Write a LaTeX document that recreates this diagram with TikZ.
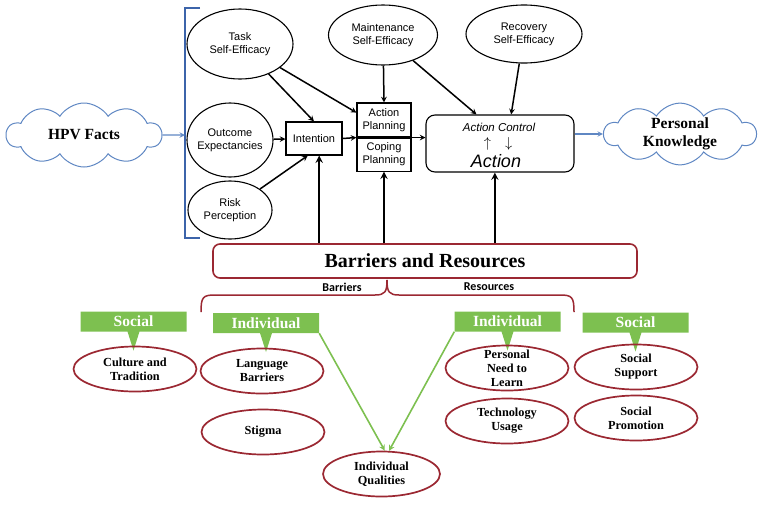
\documentclass[tikz,border=0pt]{standalone}
\usepackage{fontspec}
\setmainfont{Liberation Serif}
\setsansfont{Liberation Sans}
\newfontfamily\calibfont{Carlito}
\usetikzlibrary{shapes.geometric, shapes.symbols, shapes.callouts, arrows, positioning}
\definecolor{darkred}{RGB}{155,40,50}
\definecolor{leafgreen}{RGB}{125,192,80}
\definecolor{bracketblue}{RGB}{60,100,170}
\definecolor{cloudblue}{RGB}{95,135,195}

\begin{document}
\begin{tikzpicture}[x=1pt, y=-1pt, >=stealth]
    \tikzstyle{construct} = [ellipse, draw, line width=1.1pt, inner sep=0pt, align=center, font=\sffamily\fontsize{11}{13}\selectfont]
    \tikzstyle{stage} = [rectangle, draw, line width=1.1pt, inner sep=0pt, align=center, font=\sffamily\fontsize{11}{13}\selectfont]
    \tikzstyle{knowledge} = [cloud, draw=cloudblue, line width=1pt, fill=white, cloud puffs=10, cloud puff arc=115, aspect=2.4, inner sep=0pt, align=center, font=\bfseries\fontsize{15.5}{18}\selectfont]
    \tikzstyle{factor} = [ellipse, draw=darkred, line width=1.7pt, minimum width=123pt, minimum height=45pt, inner sep=0pt, align=center, font=\bfseries\fontsize{12.3}{14}\selectfont]
    \tikzstyle{tag} = [rectangle callout, fill=leafgreen, text=white, minimum width=106pt, minimum height=20pt, inner sep=0pt, callout relative pointer={(0pt,-19pt)}, callout pointer width=12pt, font=\bfseries\fontsize{15.5}{18}\selectfont]
    \tikzstyle{line} = [draw, ->, line width=1.5pt]
    \tikzstyle{upline} = [draw, ->, line width=2.2pt]
    \tikzstyle{blueline} = [draw=cloudblue, ->, line width=1.4pt]
    \tikzstyle{greenline} = [draw=leafgreen, ->, line width=1.6pt]

    \useasboundingbox (0,0) rectangle (768,504);

    \node [knowledge, minimum width=155pt, minimum height=64pt] (hpv) at (84,135) {HPV Facts};
    \node [knowledge, minimum width=152pt, minimum height=60pt] (pk) at (680,134) {Personal\\Knowledge};

    \node [construct, minimum width=106pt, minimum height=70pt] (taskse) at (240,44) {Task\\Self-Efficacy};
    \node [construct, minimum width=86pt, minimum height=74pt, inner xsep=-4pt] (outcome) at (230,140) {Outcome\\Expectancies};
    \node [construct, minimum width=84pt, minimum height=58pt] (risk) at (230,210) {Risk\\Perception};
    \node [construct, minimum width=109pt, minimum height=60pt] (maint) at (383,35) {Maintenance\\Self-Efficacy};
    \node [construct, minimum width=116pt, minimum height=58pt] (recov) at (524,34) {Recovery\\Self-Efficacy};

    \node [stage, minimum width=56pt, minimum height=33pt] (intention) at (314,138.5) {Intention};
    \node [stage, minimum width=54pt, minimum height=34pt] (ap) at (384,120) {Action\\Planning};
    \node [stage, minimum width=54pt, minimum height=33pt, below=0pt of ap] (cp) {Coping\\Planning};
    \node [stage, rounded corners=9pt, minimum width=148pt, minimum height=57pt] (actctrl) at (500,143.5) {};
    \node [inner sep=0pt, font=\sffamily\itshape\fontsize{11.5}{13}\selectfont] (actctrltext) at (499,127) {Action Control};
    \node [inner sep=0pt, font=\fontsize{14}{14}\selectfont] (updown) at (498,144) {$\uparrow\quad\downarrow$};
    \node [inner sep=0pt, font=\sffamily\itshape\fontsize{18}{20}\selectfont] (actiontext) at (496,161) {Action};

    \coordinate (brk) at (185,135);
    \draw [bracketblue, line width=1.4pt] (200,8) -- (185,8) -- (185,238) -- (200,238);

    \node [rectangle, draw=darkred, line width=1.6pt, rounded corners=7pt, minimum width=424pt, minimum height=34pt, font=\bfseries\fontsize{20}{22}\selectfont] (barres) at (425,261) {Barriers and Resources};
    \node [font=\calibfont\bfseries\fontsize{12}{14}\selectfont] (barlabel) at (342,287) {Barriers};
    \node [font=\calibfont\bfseries\fontsize{12}{14}\selectfont] (reslabel) at (489,287) {Resources};
    \draw [darkred, line width=1.5pt] (201,312) .. controls (201,297) and (203,295) .. (215,295) -- (375,295) .. controls (385,295) and (387,292) .. (387,280) .. controls (387,292) and (389,295) .. (399,295) -- (560,295) .. controls (572,295) and (574,297) .. (574,312);

    \node [tag] (sociall) at (133.5,321.5) {Social};
    \node [tag] (indl) at (266,323) {Individual};
    \node [tag] (indr) at (507.5,321.5) {Individual};
    \node [tag] (socialr) at (635.5,322.5) {Social};

    \node [factor] (culture) at (135,369) {Culture and\\Tradition};
    \node [factor] (language) at (262,371) {Language\\Barriers};
    \node [factor] (stigma) at (263,432) {Stigma};
    \node [factor, minimum width=117pt] (indq) at (381.5,474) {Individual\\Qualities};
    \node [factor, inner ysep=-9pt] (needlearn) at (507,368) {Personal\\Need to\\Learn};
    \node [factor] (techuse) at (507,421) {Technology\\Usage};
    \node [factor] (support) at (636,367) {Social\\Support};
    \node [factor] (promotion) at (636,418) {Social\\Promotion};

    \path [blueline] (hpv.east) -- (brk);
    \path [blueline] (actctrl.east |- pk.west) -- (pk.west);
    \path [line] (taskse) -- (intention.north);
    \path [line] (taskse) -- (ap.165);
    \path [line] (outcome) -- (intention);
    \path [line] (risk) -- (intention.250);
    \path [line] (intention.east) -- (ap.south west);
    \path [line] (ap.south east) -- (ap.south east -| actctrl.west);
    \path [line] (maint) -- (ap.north);
    \path [line] (maint) -- (actctrl.129);
    \path [line] (recov) -- (actctrl.69);
    \path [upline] (barres.north -| intention.-73) -- (intention.-73);
    \path [upline] (barres.north -| cp.south) -- (cp.south);
    \path [upline] (barres.north -| actctrl.-100) -- (actctrl.-100);
    \path [greenline] (indl.south east) -- (indq.82);
    \path [greenline] (indr.south west) -- (indq.72);
\end{tikzpicture}
\end{document}
